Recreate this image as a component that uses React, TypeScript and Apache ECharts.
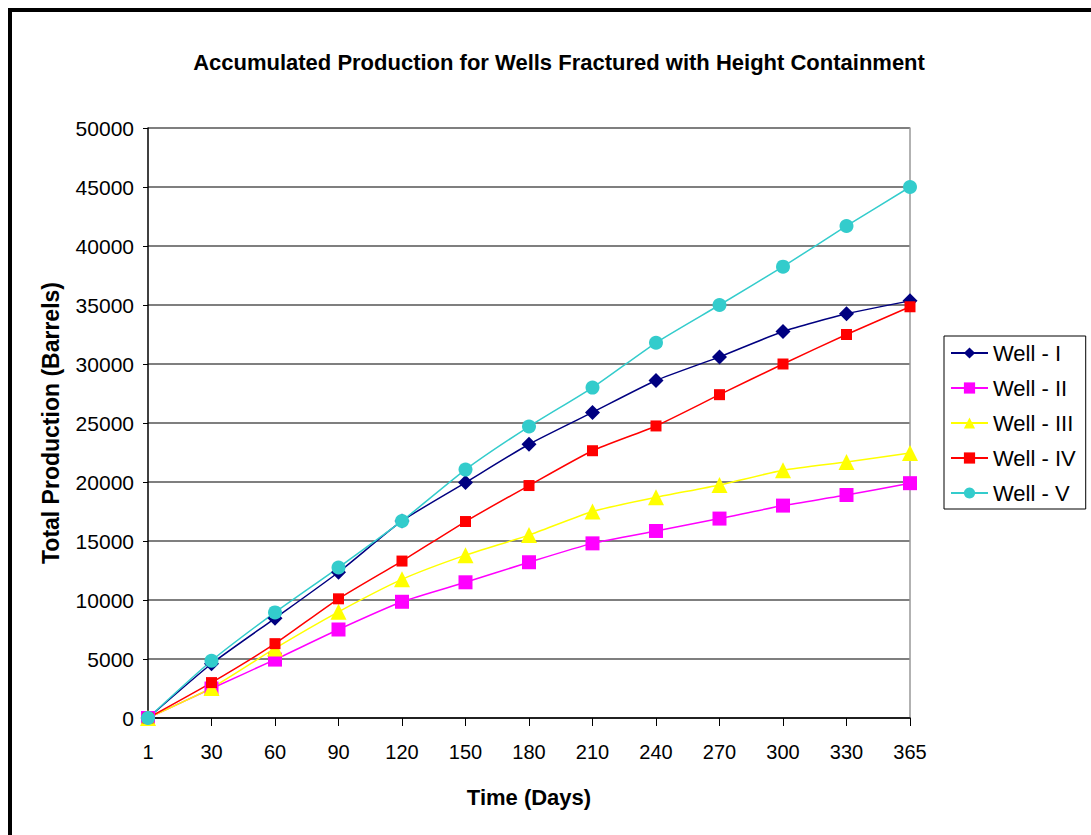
import React, { useEffect, useRef } from "react";
import * as echarts from "echarts";

const days = ["1", "30", "60", "90", "120", "150", "180", "210", "240", "270", "300", "330", "365"];
const wellI = [0, 4600, 8450, 12350, 16700, 19950, 23200, 25900, 28600, 30600, 32750, 34250, 35350];
const wellII = [0, 2500, 4950, 7500, 9850, 11500, 13200, 14800, 15850, 16900, 18000, 18900, 19900];
const wellIII = [0, 2550, 5900, 9000, 11750, 13800, 15500, 17500, 18700, 19750, 21000, 21700, 22450];
const wellIV = [0, 3000, 6300, 10100, 13300, 16650, 19700, 22650, 24750, 27400, 30000, 32500, 34850];
const wellV = [0, 4850, 8950, 12750, 16700, 21050, 24700, 28000, 31800, 35000, 38250, 41700, 45000];

const seriesDefs = [
  { name: "Well - I", data: wellI, color: "#000080", symbol: "diamond", size: 15 },
  { name: "Well - II", data: wellII, color: "#FF00FF", symbol: "rect", size: 14 },
  { name: "Well - III", data: wellIII, color: "#FFFF00", symbol: "triangle", size: 16 },
  { name: "Well - IV", data: wellIV, color: "#FF0000", symbol: "rect", size: 11 },
  { name: "Well - V", data: wellV, color: "#33CCCC", symbol: "circle", size: 14 },
];

export default function App() {
  const ref = useRef<HTMLDivElement>(null);
  useEffect(() => {
    if (!ref.current) return;
    const chart = echarts.init(ref.current, undefined, { renderer: "svg" });
    const font = "Arial, 'Liberation Sans', sans-serif";
    chart.setOption({
      animation: false,
      backgroundColor: "#fff",
      textStyle: { fontFamily: font },
      title: {
        text: "Accumulated Production for Wells Fractured with Height Containment",
        left: 554,
        textAlign: "center",
        top: 46,
        textStyle: { fontFamily: font, fontSize: 22, fontWeight: "bold", color: "#000" },
      },
      graphic: [
        {
          type: "rect",
          shape: { x: 10, y: 10, width: 2000, height: 2000 },
          style: { fill: "none", stroke: "#000", lineWidth: 4 },
          silent: true,
        },
      ],
      legend: {
        orient: "vertical",
        left: 944,
        top: 336,
        width: 140,
        padding: [6, 10, 5, 6],
        itemGap: 13,
        itemWidth: 37,
        itemHeight: 14,
        borderColor: "#000",
        borderWidth: 1,
        textStyle: { fontFamily: font, fontSize: 22, color: "#000" },
        data: seriesDefs.map((s) => s.name),
      },
      grid: { left: 148, right: 181, top: 128, bottom: 117 },
      xAxis: {
        type: "category",
        data: days,
        boundaryGap: false,
        name: "Time (Days)",
        nameLocation: "middle",
        nameGap: 68,
        nameTextStyle: { fontFamily: font, fontSize: 22, fontWeight: "bold", color: "#000" },
        axisLine: { lineStyle: { color: "#000", width: 1.5 } },
        axisTick: { length: 8, lineStyle: { color: "#000" } },
        axisLabel: { fontFamily: font, fontSize: 20, color: "#000", margin: 24 },
        splitLine: { show: false },
      },
      yAxis: [
        {
          type: "value",
          min: 0,
          max: 50000,
          interval: 5000,
          name: "Total Production (Barrels)",
          nameLocation: "middle",
          nameGap: 86,
          nameTextStyle: { fontFamily: font, fontSize: 23, fontWeight: "bold", color: "#000" },
          axisLine: { show: true, lineStyle: { color: "#000", width: 1.5 } },
          axisTick: { show: true, length: 5, lineStyle: { color: "#000" } },
          axisLabel: { fontFamily: font, fontSize: 21, color: "#000", margin: 14, formatter: (v: number) => String(v) },
          splitLine: { show: true, lineStyle: { color: "#555", width: 1.5 } },
        },
        {
          type: "value",
          min: 0,
          max: 50000,
          interval: 5000,
          position: "right",
          axisLine: { show: true, lineStyle: { color: "#999", width: 1.5 } },
          axisTick: { show: false },
          axisLabel: { show: false },
          splitLine: { show: false },
        },
      ],
      series: seriesDefs.map((s) => ({
        name: s.name,
        type: "line",
        data: s.data,
        smooth: 0.2,
        symbol: s.symbol,
        symbolSize: s.size,
        itemStyle: { color: s.color },
        lineStyle: { color: s.color, width: 1.5 },
      })),
    });
    return () => chart.dispose();
  }, []);
  return <div ref={ref} style={{ position: "fixed", left: 0, top: 0, width: 1091, height: 835 }} />;
}
